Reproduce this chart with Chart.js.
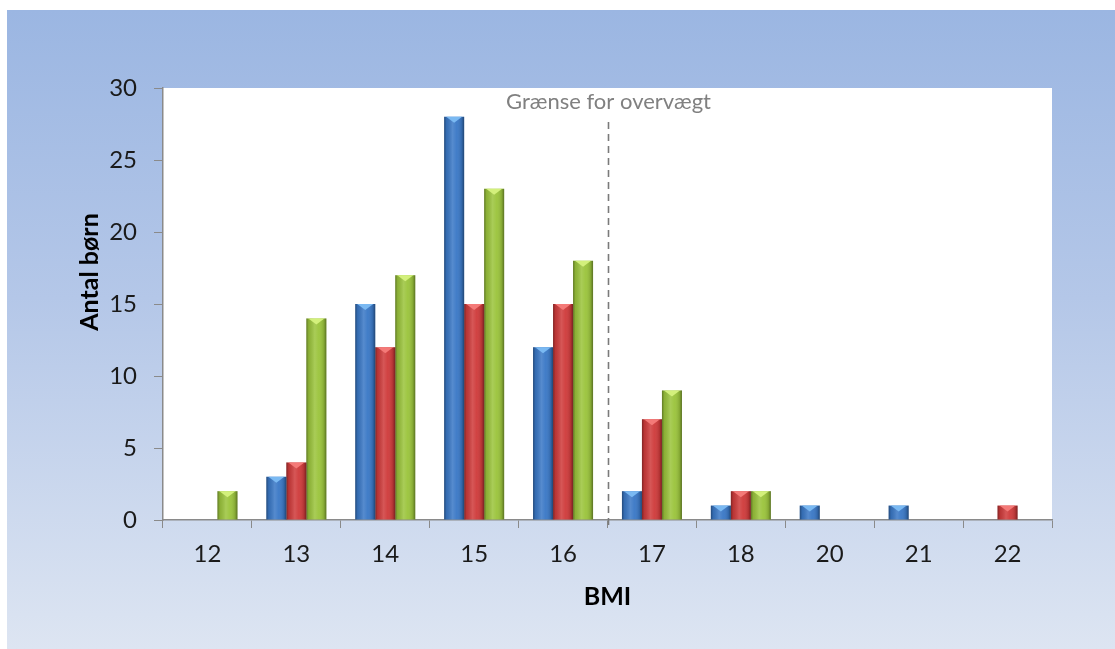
<!DOCTYPE html>
<html>
<head>
<meta charset="utf-8">
<script src="https://cdn.jsdelivr.net/npm/chart.js@4.4.0/dist/chart.umd.min.js"></script>
<style>
  html, body { margin: 0; padding: 0; background: #ffffff; }
  #wrap { width: 1115px; height: 649px; position: relative; }
  canvas { display: block; }
</style>
</head>
<body>
<div id="wrap"><canvas id="c" width="1115" height="649"></canvas></div>
<script>
// BMI classes and number of children per group
const categories = ['12', '13', '14', '15', '16', '17', '18', '20', '21', '22'];
const seriesBlue  = [0, 3, 15, 28, 12, 2, 1, 1, 1, 0];
const seriesRed   = [0, 4, 12, 15, 15, 7, 2, 0, 0, 1];
const seriesGreen = [2, 14, 17, 23, 18, 9, 2, 0, 0, 0];
const yTicks = [0, 5, 10, 15, 20, 25, 30];

// The overweight limit is drawn between these two BMI classes
const limitBetween = ['16', '17'];
const limitLabel = 'Grænse for overvægt';
const yTitle = 'Antal børn';
const xTitle = 'BMI';

const FONT = 'Lato, "Open Sans", sans-serif';

const palette = [
  { base: '#3a78c6', light: '#7ab9f2' },
  { base: '#cf3b3b', light: '#f47a78' },
  { base: '#9bc43c', light: '#d3f07c' }
];

// Page background: blue gradient panel and a white plot area
const backgroundPlugin = {
  id: 'panelBackground',
  beforeDraw(chart) {
    const { ctx, width, height, chartArea } = chart;
    ctx.save();
    ctx.fillStyle = '#ffffff';
    ctx.fillRect(0, 0, width, height);
    const g = ctx.createLinearGradient(0, 10, 0, height);
    g.addColorStop(0, '#9bb6e2');
    g.addColorStop(0.45, '#b4c7e8');
    g.addColorStop(1, '#dde5f2');
    ctx.fillStyle = g;
    ctx.fillRect(7, 10, width - 7, height - 10);
    ctx.fillStyle = '#ffffff';
    ctx.fillRect(chartArea.left, chartArea.top, chartArea.right - chartArea.left, chartArea.bottom - chartArea.top);
    ctx.restore();
  }
};

// Bevelled look for each bar: side shading and a light chevron on top
const bevelPlugin = {
  id: 'barBevel',
  afterDatasetsDraw(chart) {
    const { ctx } = chart;
    ctx.save();
    chart.data.datasets.forEach((ds, di) => {
      const meta = chart.getDatasetMeta(di);
      if (meta.hidden) return;
      meta.data.forEach(el => {
        const p = el.getProps(['x', 'y', 'base', 'width'], true);
        const h = p.base - p.y;
        if (h < 0.5) return;
        const left = p.x - p.width / 2;
        const g = ctx.createLinearGradient(left, 0, left + p.width, 0);
        g.addColorStop(0, 'rgba(0,0,0,0.38)');
        g.addColorStop(0.12, 'rgba(0,0,0,0.10)');
        g.addColorStop(0.42, 'rgba(255,255,255,0.14)');
        g.addColorStop(0.62, 'rgba(255,255,255,0.04)');
        g.addColorStop(0.88, 'rgba(0,0,0,0.14)');
        g.addColorStop(1, 'rgba(0,0,0,0.42)');
        ctx.fillStyle = g;
        ctx.fillRect(left, p.y, p.width, h);
        const ch = Math.min(6, h / 2);
        ctx.beginPath();
        ctx.moveTo(left + 2, p.y);
        ctx.lineTo(left + p.width - 2, p.y);
        ctx.lineTo(p.x, p.y + ch);
        ctx.closePath();
        ctx.fillStyle = palette[di].light;
        ctx.fill();
      });
    });
    ctx.restore();
  }
};

// Dashed overweight limit with its caption
const limitPlugin = {
  id: 'limitLine',
  afterDatasetsDraw(chart) {
    const { ctx, chartArea } = chart;
    const xs = chart.scales.x;
    const i0 = categories.indexOf(limitBetween[0]);
    const i1 = categories.indexOf(limitBetween[1]);
    const x = Math.round((xs.getPixelForValue(i0) + xs.getPixelForValue(i1)) / 2) + 0.5;
    ctx.save();
    ctx.strokeStyle = '#7a7a7a';
    ctx.lineWidth = 1.6;
    ctx.setLineDash([7, 5]);
    ctx.beginPath();
    ctx.moveTo(x, chartArea.top + 34);
    ctx.lineTo(x, chartArea.bottom + 9);
    ctx.stroke();
    ctx.setLineDash([]);
    ctx.fillStyle = '#808080';
    ctx.font = '22px ' + FONT;
    ctx.textAlign = 'center';
    ctx.textBaseline = 'alphabetic';
    ctx.fillText(limitLabel, x, chartArea.top + 21);
    ctx.restore();
  }
};

// Axis titles
const titlesPlugin = {
  id: 'axisTitles',
  afterDraw(chart) {
    const { ctx, chartArea } = chart;
    ctx.save();
    ctx.fillStyle = '#000000';
    ctx.font = 'bold 25px ' + FONT;
    ctx.textAlign = 'center';
    ctx.textBaseline = 'middle';
    ctx.fillText(xTitle, (chartArea.left + chartArea.right) / 2, chartArea.bottom + 77);
    ctx.font = 'bold 25px ' + FONT;
    ctx.translate(90, chartArea.top + 184);
    ctx.rotate(-Math.PI / 2);
    ctx.fillText(yTitle, 0, 0);
    ctx.restore();
  }
};

const mkSet = (label, data, i) => ({
  label,
  data,
  backgroundColor: palette[i].base,
  borderWidth: 0,
  barPercentage: 1.0,
  categoryPercentage: 0.675
});

new Chart(document.getElementById('c'), {
  type: 'bar',
  data: {
    labels: categories,
    datasets: [
      mkSet('Gruppe 1', seriesBlue, 0),
      mkSet('Gruppe 2', seriesRed, 1),
      mkSet('Gruppe 3', seriesGreen, 2)
    ]
  },
  options: {
    responsive: false,
    animation: false,
    devicePixelRatio: 1,
    layout: { padding: { left: 0, top: 88, right: 63, bottom: 0 } },
    plugins: {
      legend: { display: false },
      tooltip: { enabled: false },
      title: { display: false }
    },
    scales: {
      x: {
        grid: {
          offset: true,
          drawOnChartArea: false,
          drawTicks: true,
          tickLength: 8,
          color: '#8a8a8a'
        },
        border: { display: true, color: '#8a8a8a', width: 1.5 },
        ticks: {
          color: '#1a1a1a',
          font: { family: FONT, size: 24 },
          padding: 12
        },
        afterFit(scale) { scale.height = 129; }
      },
      y: {
        min: 0,
        max: 30,
        afterBuildTicks(scale) { scale.ticks = yTicks.map(v => ({ value: v })); },
        grid: {
          drawOnChartArea: false,
          drawTicks: true,
          tickLength: 9,
          color: '#8a8a8a'
        },
        border: { display: true, color: '#8a8a8a', width: 1.5 },
        ticks: {
          color: '#1a1a1a',
          font: { family: FONT, size: 24 },
          padding: 17
        },
        afterFit(scale) { scale.width = 163; }
      }
    }
  },
  plugins: [backgroundPlugin, bevelPlugin, limitPlugin, titlesPlugin]
});
</script>
</body>
</html>
